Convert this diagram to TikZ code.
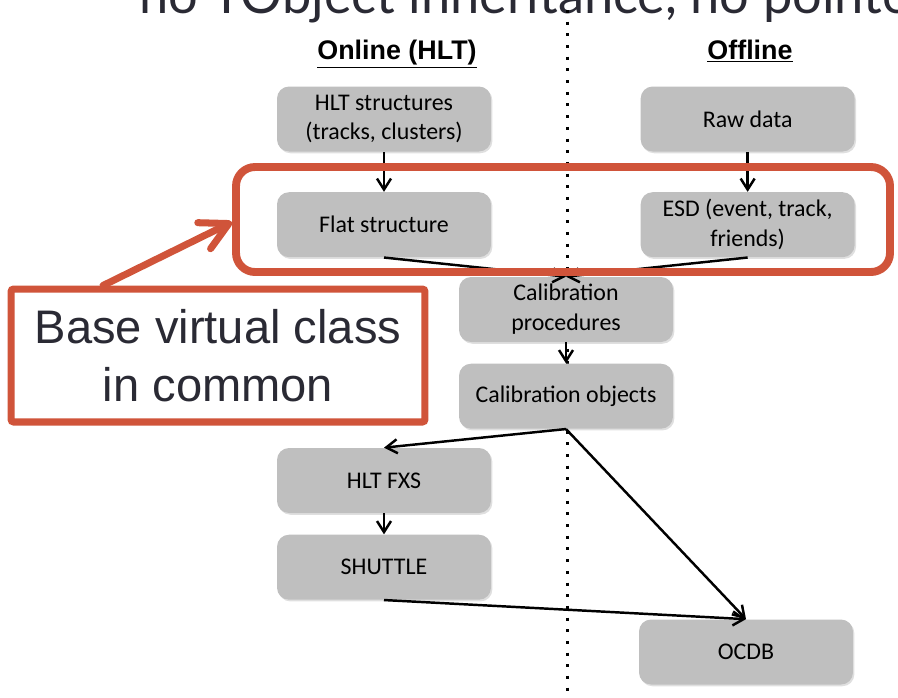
\documentclass[tikz,border=0pt]{standalone}
\usepackage{fontspec}
\setmainfont{Carlito}
\newfontfamily\arialfont{Liberation Sans}
\newfontfamily\gillfont{Lato}
\usepackage{xcolor}
\usetikzlibrary{arrows.meta, positioning, shadows}
\definecolor{BoxGray}{RGB}{191,191,191}
\definecolor{NoteRed}{RGB}{208,84,58}
\definecolor{InkDark}{RGB}{42,42,52}
\tikzset{
    stepbox/.style={rectangle, rounded corners=0.24cm, minimum width=4.28cm, minimum height=1.3cm,
        align=center, fill=BoxGray, font=\fontsize{13.6}{17}\selectfont,
        drop shadow={shadow xshift=0.8pt, shadow yshift=-1pt, opacity=0.25}},
    flowarrow/.style={-{Straight Barb[length=2.2mm, width=2.8mm]}, line width=1.4pt, black},
    colhead/.style={anchor=base, font=\arialfont\bfseries\fontsize{15.3}{18}\selectfont},
    divider/.style={line width=1.7pt, dash pattern=on 1.7pt off 4.95pt},
    hilite/.style={draw=NoteRed, line width=4.5pt, rounded corners=0.38cm},
    notebox/.style={rectangle, draw=NoteRed, fill=white, line width=4pt, rounded corners=1.5pt,
        minimum width=8.28cm, minimum height=2.66cm, align=center, text=InkDark,
        font=\arialfont\fontsize{26.8}{33}\selectfont,
        drop shadow={shadow xshift=0.8pt, shadow yshift=-1pt, opacity=0.25}},
    pointer/.style={-{Straight Barb[length=5.5mm, width=5.8mm, round]}, line width=4pt,
        NoteRed, line cap=round},
    titletext/.style={anchor=base west, text=InkDark, font=\gillfont\fontsize{29.8}{34}\selectfont},
}

\begin{document}
\begin{tikzpicture}[x=0.02cm, y=-0.02cm]
    \useasboundingbox (0,0) rectangle (898,697);

    % Title, cut by the page edge as in the slide
    \node[titletext] (title) at (133,13) {no TObject inheritance, no pointers};

    % Online / offline split
    \coordinate (divtop) at (567,10);
    \coordinate (divbot) at (567,697);
    \draw[divider] (divtop) -- (divbot);
    \node[colhead] (online) at (397,59) {\underline{Online (HLT)}};
    \node[colhead] (offline) at (750,59) {\underline{Offline}};

    % Online column
    \node[stepbox] (hlt) at (384,119) {HLT structures\\(tracks, clusters)};
    \node[stepbox, below=0.8cm of hlt] (flat) {Flat structure};

    % Offline column
    \node[stepbox, right=2.98cm of hlt] (raw) {Raw data};
    \node[stepbox, below=0.8cm of raw] (esd) {ESD (event, track,\\friends)};

    % Calibration chain
    \node[stepbox] (calproc) at (566,309.5) {Calibration\\procedures};
    \node[stepbox, below=0.42cm of calproc] (calobj) {Calibration objects};

    % Back to online, then to the database
    \node[stepbox] (hltfxs) at (384,480.5) {HLT FXS};
    \node[stepbox, below=0.42cm of hltfxs] (shuttle) {SHUTTLE};
    \node[stepbox] (ocdb) at (746,652) {OCDB};

    % Arrows
    \draw[flowarrow] (hlt) -- (flat);
    \draw[flowarrow] (raw) -- (esd);
    \draw[flowarrow] (flat.south) -- (calproc.north);
    \draw[flowarrow] (esd.south) -- (calproc.north);
    \draw[flowarrow] (calproc) -- (calobj);
    \draw[flowarrow] (calobj.south) -- (hltfxs.north);
    \draw[flowarrow] (calobj.south) -- (ocdb.north);
    \draw[flowarrow] (hltfxs) -- (shuttle);
    \draw[flowarrow] (shuttle.south) -- (ocdb.north);

    % Highlight of the common base
    \draw[hilite] (236,167) rectangle (890,272);
    \coordinate (hiliteW) at (232,222);

    % Callout
    \node[notebox] (base) at (218,355.5) {Base virtual class\\in common};
    \draw[pointer] ([xshift=-2.3cm]base.north) -- (hiliteW);
\end{tikzpicture}
\end{document}
